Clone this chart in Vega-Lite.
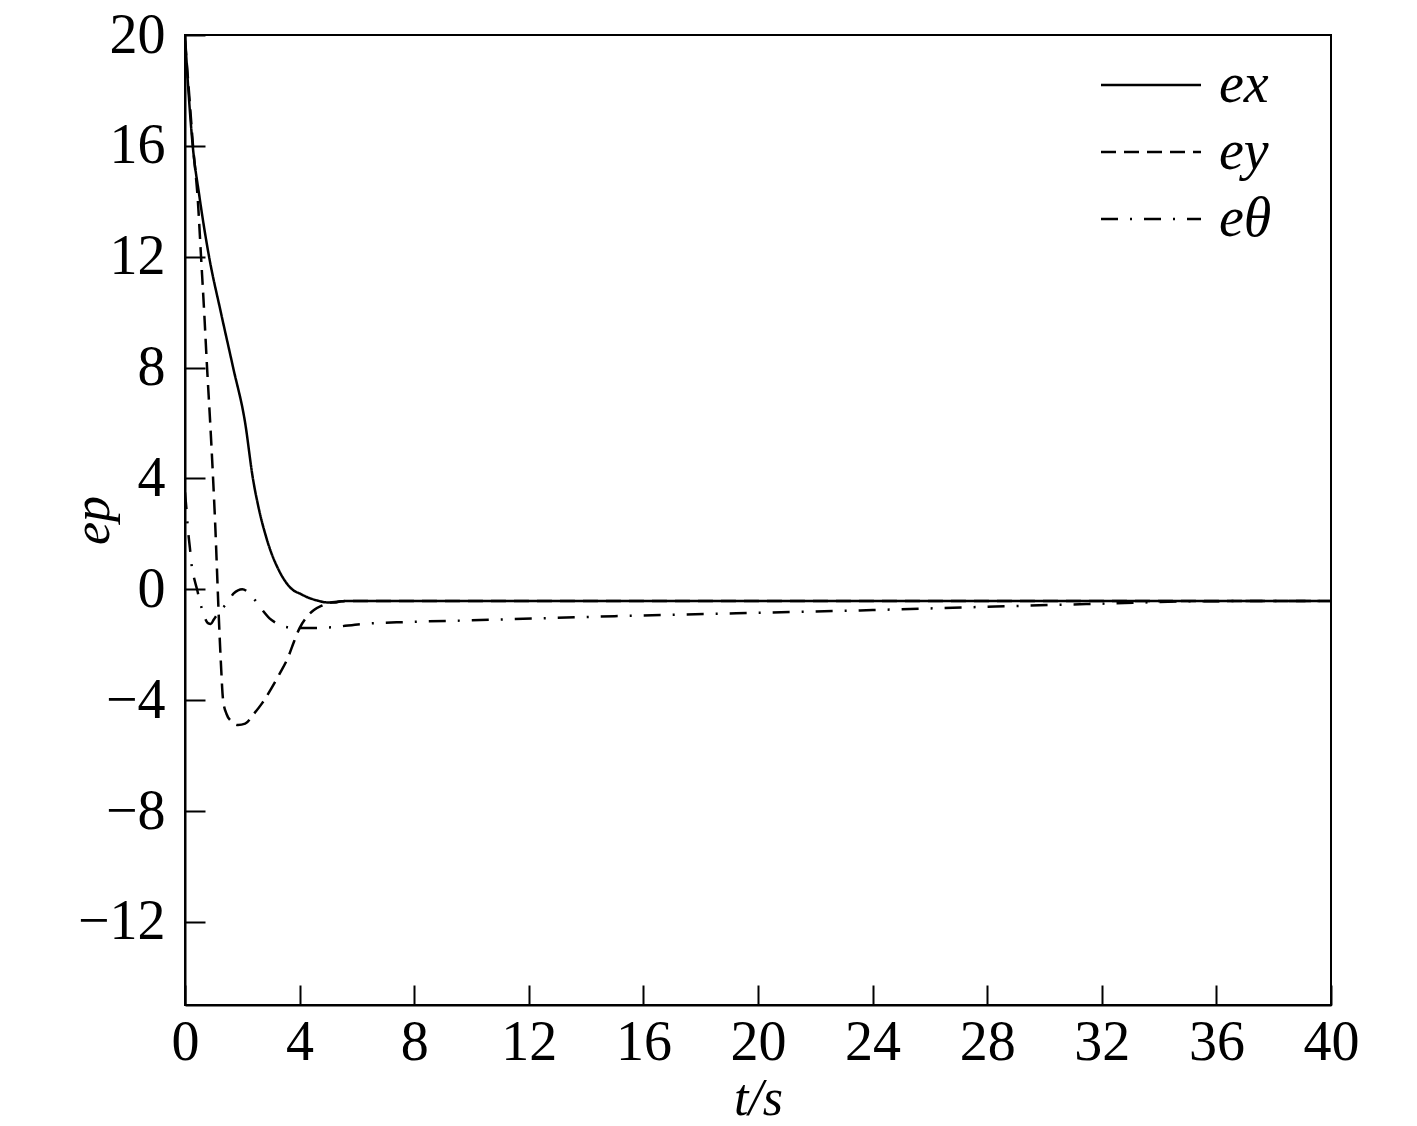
{
  "$schema": "https://vega.github.io/schema/vega-lite/v6.json",
  "width": 1146,
  "height": 970,
  "autosize": {"type": "none"},
  "padding": {"left": 185, "top": 35, "right": 86, "bottom": 121},
  "background": "white",
  "config": {
    "view": {"stroke": "black", "strokeWidth": 2},
    "font": "Liberation Serif",
    "axis": {
      "grid": false,
      "domainColor": "black",
      "domainWidth": 2,
      "tickColor": "black",
      "tickWidth": 2,
      "tickSize": -20,
      "labelFlush": false,
      "labelOverlap": false,
      "labelFont": "Liberation Serif",
      "labelFontSize": 56,
      "labelColor": "black",
      "titleFont": "Liberation Serif",
      "titleFontSize": 52,
      "titleFontWeight": "normal",
      "titleFontStyle": "italic",
      "titleColor": "black"
    }
  },
  "data": {
    "values": [
      {"t": 0, "v": 20, "s": "ex"},
      {"t": 0.1, "v": 18.3, "s": "ex"},
      {"t": 0.27, "v": 16.0, "s": "ex"},
      {"t": 0.5, "v": 14.2, "s": "ex"},
      {"t": 0.84, "v": 12.0, "s": "ex"},
      {"t": 1.25, "v": 10.0, "s": "ex"},
      {"t": 1.68, "v": 8.0, "s": "ex"},
      {"t": 2.1, "v": 6.0, "s": "ex"},
      {"t": 2.37, "v": 4.0, "s": "ex"},
      {"t": 2.6, "v": 2.8, "s": "ex"},
      {"t": 2.8, "v": 2.0, "s": "ex"},
      {"t": 3.0, "v": 1.35, "s": "ex"},
      {"t": 3.2, "v": 0.85, "s": "ex"},
      {"t": 3.4, "v": 0.45, "s": "ex"},
      {"t": 3.6, "v": 0.15, "s": "ex"},
      {"t": 3.8, "v": -0.05, "s": "ex"},
      {"t": 4.0, "v": -0.15, "s": "ex"},
      {"t": 4.3, "v": -0.3, "s": "ex"},
      {"t": 4.6, "v": -0.4, "s": "ex"},
      {"t": 4.9, "v": -0.47, "s": "ex"},
      {"t": 5.2, "v": -0.48, "s": "ex"},
      {"t": 5.5, "v": -0.43, "s": "ex"},
      {"t": 6, "v": -0.42, "s": "ex"},
      {"t": 10, "v": -0.42, "s": "ex"},
      {"t": 20, "v": -0.42, "s": "ex"},
      {"t": 30, "v": -0.42, "s": "ex"},
      {"t": 40, "v": -0.42, "s": "ex"},
      {"t": 0, "v": 19.8, "s": "ey"},
      {"t": 0.15, "v": 17.8, "s": "ey"},
      {"t": 0.28, "v": 16.0, "s": "ey"},
      {"t": 0.45, "v": 14.0, "s": "ey"},
      {"t": 0.56, "v": 12.0, "s": "ey"},
      {"t": 0.67, "v": 10.0, "s": "ey"},
      {"t": 0.77, "v": 8.0, "s": "ey"},
      {"t": 0.88, "v": 6.0, "s": "ey"},
      {"t": 0.98, "v": 4.0, "s": "ey"},
      {"t": 1.06, "v": 2.2, "s": "ey"},
      {"t": 1.12, "v": 0.6, "s": "ey"},
      {"t": 1.18, "v": -1.0, "s": "ey"},
      {"t": 1.25, "v": -2.6, "s": "ey"},
      {"t": 1.33, "v": -4.0, "s": "ey"},
      {"t": 1.45, "v": -4.5, "s": "ey"},
      {"t": 1.6, "v": -4.75, "s": "ey"},
      {"t": 1.85, "v": -4.9, "s": "ey"},
      {"t": 2.1, "v": -4.85, "s": "ey"},
      {"t": 2.4, "v": -4.5, "s": "ey"},
      {"t": 2.7, "v": -4.1, "s": "ey"},
      {"t": 3.0, "v": -3.6, "s": "ey"},
      {"t": 3.3, "v": -3.05, "s": "ey"},
      {"t": 3.6, "v": -2.45, "s": "ey"},
      {"t": 3.8, "v": -1.9, "s": "ey"},
      {"t": 4.0, "v": -1.4, "s": "ey"},
      {"t": 4.25, "v": -1.0, "s": "ey"},
      {"t": 4.5, "v": -0.75, "s": "ey"},
      {"t": 4.8, "v": -0.58, "s": "ey"},
      {"t": 5.0, "v": -0.5, "s": "ey"},
      {"t": 5.3, "v": -0.45, "s": "ey"},
      {"t": 5.6, "v": -0.42, "s": "ey"},
      {"t": 10, "v": -0.42, "s": "ey"},
      {"t": 20, "v": -0.42, "s": "ey"},
      {"t": 30, "v": -0.42, "s": "ey"},
      {"t": 40, "v": -0.42, "s": "ey"},
      {"t": 0, "v": 3.5, "s": "eθ"},
      {"t": 0.05, "v": 2.9, "s": "eθ"},
      {"t": 0.1, "v": 2.2, "s": "eθ"},
      {"t": 0.17, "v": 1.5, "s": "eθ"},
      {"t": 0.24, "v": 0.8, "s": "eθ"},
      {"t": 0.33, "v": 0.35, "s": "eθ"},
      {"t": 0.42, "v": 0.0, "s": "eθ"},
      {"t": 0.5, "v": -0.35, "s": "eθ"},
      {"t": 0.6, "v": -0.75, "s": "eθ"},
      {"t": 0.7, "v": -1.05, "s": "eθ"},
      {"t": 0.8, "v": -1.22, "s": "eθ"},
      {"t": 0.9, "v": -1.25, "s": "eθ"},
      {"t": 1.0, "v": -1.1, "s": "eθ"},
      {"t": 1.2, "v": -0.8, "s": "eθ"},
      {"t": 1.47, "v": -0.5, "s": "eθ"},
      {"t": 1.7, "v": -0.15, "s": "eθ"},
      {"t": 2.0, "v": 0.0, "s": "eθ"},
      {"t": 2.2, "v": -0.1, "s": "eθ"},
      {"t": 2.45, "v": -0.4, "s": "eθ"},
      {"t": 2.7, "v": -0.75, "s": "eθ"},
      {"t": 2.95, "v": -1.05, "s": "eθ"},
      {"t": 3.15, "v": -1.2, "s": "eθ"},
      {"t": 3.6, "v": -1.37, "s": "eθ"},
      {"t": 4.2, "v": -1.4, "s": "eθ"},
      {"t": 5.1, "v": -1.37, "s": "eθ"},
      {"t": 6.2, "v": -1.25, "s": "eθ"},
      {"t": 7.8, "v": -1.18, "s": "eθ"},
      {"t": 10, "v": -1.12, "s": "eθ"},
      {"t": 15, "v": -0.97, "s": "eθ"},
      {"t": 20, "v": -0.85, "s": "eθ"},
      {"t": 24, "v": -0.75, "s": "eθ"},
      {"t": 28, "v": -0.63, "s": "eθ"},
      {"t": 32, "v": -0.52, "s": "eθ"},
      {"t": 35.5, "v": -0.43, "s": "eθ"},
      {"t": 40, "v": -0.42, "s": "eθ"}
    ]
  },
  "mark": {"type": "line", "color": "black", "strokeWidth": 2.5, "interpolate": "monotone", "clip": true},
  "encoding": {
    "x": {
      "field": "t",
      "type": "quantitative",
      "scale": {"domain": [0, 40], "nice": false},
      "axis": {"values": [0, 4, 8, 12, 16, 20, 24, 28, 32, 36, 40], "title": "t/s", "labelPadding": 30, "titlePadding": 3}
    },
    "y": {
      "field": "v",
      "type": "quantitative",
      "scale": {"domain": [-15, 20], "nice": false, "zero": false},
      "axis": {"values": [-12, -8, -4, 0, 4, 8, 12, 16, 20], "title": "ep", "labelPadding": 40, "titlePadding": -42, "labelExpr": "replace(datum.label, '-', '−')"}
    },
    "strokeDash": {
      "field": "s",
      "type": "nominal",
      "scale": {"domain": ["ex", "ey", "eθ"], "range": [[1, 0], [15, 8], [17, 12, 2, 12]]},
      "legend": {
        "title": null,
        "orient": "none",
        "legendX": 938,
        "legendY": 22,
        "symbolType": "M-2,0H2",
        "symbolSize": 2500,
        "symbolStrokeWidth": 2.5,
        "symbolStrokeColor": "black",
        "labelFont": "Liberation Serif",
        "labelFontSize": 56,
        "labelFontStyle": "italic",
        "labelColor": "black",
        "labelOffset": 40,
        "rowPadding": 11,
        "padding": 0
      }
    }
  }
}
